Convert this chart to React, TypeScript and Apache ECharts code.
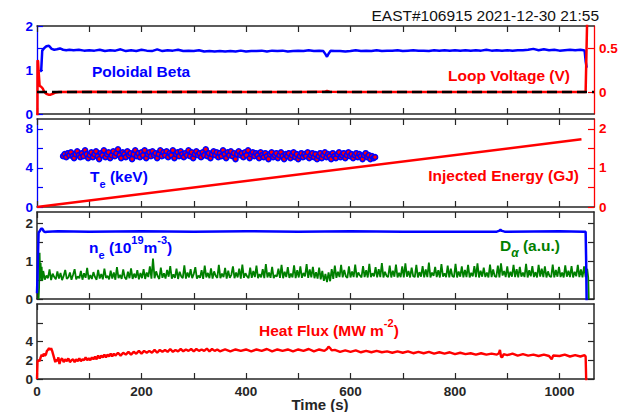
import React, { useEffect, useRef } from "react";
import * as echarts from "echarts";

// ---------- data ----------
const X_MAX = 1066;
const xTicks = [0, 100, 200, 300, 400, 500, 600, 700, 800, 900, 1000];
const xTickLabels = [0, 200, 400, 600, 800, 1000];

const p1LeftTicks = [0, 0.5, 1, 1.5, 2];
const p1LeftLabels = [0, 1, 2];
const p1RightTicks = [0, 0.5];
const p1RightLabels = [0, 0.5];
const p2LeftTicks = [0, 2, 4, 6, 8];
const p2LeftLabels = [0, 4, 8];
const p2RightTicks = [0, 0.5, 1, 1.5, 2];
const p2RightLabels = [0, 1, 2];
const p3Ticks = [0, 0.5, 1, 1.5, 2];
const p3Labels = [0, 1, 2];
const p4Ticks = [0, 2, 4, 6];
const p4Labels = [0, 2, 4];

const poloidalBeta = [
  [6, 0.97], [8, 0.98], [10, 1.44], [14, 1.5], [18, 1.54], [23, 1.55], [28, 1.48], [33, 1.46], [38, 1.47], [44, 1.49],
  [50, 1.46], [56, 1.45], [62, 1.46], [70, 1.45], [80, 1.46], [90, 1.44], [100, 1.45], [110, 1.44], [120, 1.46], [130, 1.43],
  [140, 1.45], [150, 1.44], [160, 1.47], [170, 1.43], [180, 1.45], [190, 1.43], [200, 1.46], [210, 1.44], [220, 1.43], [230, 1.47],
  [240, 1.43], [250, 1.45], [260, 1.44], [270, 1.46], [280, 1.43], [290, 1.44], [300, 1.43], [310, 1.45], [320, 1.42], [330, 1.43],
  [340, 1.42], [350, 1.43], [360, 1.42], [370, 1.43], [380, 1.42], [390, 1.44], [400, 1.42], [410, 1.43], [420, 1.43], [430, 1.44],
  [440, 1.42], [450, 1.44], [460, 1.43], [470, 1.44], [480, 1.42], [490, 1.43], [500, 1.44], [510, 1.43], [520, 1.45], [530, 1.43],
  [540, 1.44], [548, 1.43], [552, 1.36], [555, 1.3], [558, 1.37], [562, 1.44], [570, 1.43], [580, 1.43], [590, 1.42], [600, 1.43],
  [610, 1.45], [620, 1.43], [630, 1.44], [640, 1.43], [650, 1.45], [660, 1.43], [670, 1.44], [680, 1.44], [690, 1.45], [700, 1.43],
  [710, 1.44], [720, 1.45], [730, 1.44], [740, 1.44], [750, 1.43], [760, 1.45], [770, 1.44], [780, 1.45], [790, 1.44], [800, 1.45],
  [810, 1.44], [820, 1.45], [830, 1.44], [840, 1.45], [850, 1.44], [860, 1.46], [870, 1.44], [880, 1.45], [890, 1.44], [900, 1.45],
  [910, 1.44], [920, 1.45], [930, 1.45], [940, 1.46], [950, 1.48], [960, 1.45], [970, 1.47], [980, 1.45], [990, 1.46], [1000, 1.44],
  [1010, 1.45], [1020, 1.46], [1030, 1.45], [1040, 1.46], [1046, 1.45], [1048, 1.44], [1050, 1.2], [1052, 1.05],
];

const loopVoltage = [
  [0.8, -0.3], [1, 0.36], [2, 0.35], [3.5, 0.2], [5, 0.07], [8, 0.06], [11, 0.04], [14, 0.0], [18, -0.02], [22, -0.03],
  [26, -0.03], [30, -0.02], [36, -0.005], [42, 0.0], [100, 0.002], [200, 0.0], [300, 0.002], [400, 0.0], [500, 0.001], [550, 0.002],
  [555, 0.012], [560, 0.003], [600, 0.0], [700, 0.001], [800, 0.0], [900, 0.001], [1000, 0.0], [1048, 0.0], [1050, 0.0], [1053, 0.85],
];
const zeroLine = [[0, 0], [X_MAX, 0]];

const electronTemp = [
  [50, 5.2], [53, 5.4], [56, 5.1], [59, 5.5], [62, 5.3], [65, 5.6], [68, 5.2], [71, 5.0], [74, 5.4], [77, 5.7],
  [80, 5.3], [83, 5.1], [86, 5.5], [89, 5.2], [92, 5.8], [95, 5.4], [98, 5.0], [101, 5.3], [104, 5.6], [107, 5.1],
  [110, 5.4], [113, 5.7], [116, 5.2], [119, 4.9], [122, 5.5], [125, 5.3], [128, 5.8], [131, 5.1], [134, 5.4], [137, 5.6],
  [140, 5.0], [143, 5.3], [146, 5.7], [149, 5.2], [152, 5.5], [155, 5.9], [158, 5.3], [161, 5.0], [164, 5.6], [167, 5.4],
  [170, 5.1], [173, 5.7], [176, 5.3], [179, 5.5], [182, 4.9], [185, 5.4], [188, 5.8], [191, 5.2], [194, 5.5], [197, 5.1],
  [200, 5.6], [203, 5.3], [206, 5.8], [209, 5.0], [212, 5.4], [215, 5.6], [218, 5.2], [221, 5.7], [224, 5.3], [227, 5.5],
  [230, 5.0], [233, 5.4], [236, 5.8], [239, 5.2], [242, 5.6], [245, 5.3], [248, 5.7], [251, 5.1], [254, 5.5], [257, 5.3],
  [260, 5.8], [263, 5.0], [266, 5.4], [269, 5.6], [272, 5.2], [275, 5.7], [278, 5.4], [281, 5.1], [284, 5.5], [287, 5.3],
  [290, 5.8], [293, 5.2], [296, 5.6], [299, 5.0], [302, 5.4], [305, 5.7], [308, 5.3], [311, 5.5], [314, 5.1], [317, 5.6],
  [320, 5.3], [323, 5.9], [326, 5.2], [329, 5.5], [332, 5.0], [335, 5.4], [338, 5.7], [341, 5.3], [344, 5.6], [347, 5.1],
  [350, 5.5], [353, 5.2], [356, 5.8], [359, 5.4], [362, 5.0], [365, 5.6], [368, 5.3], [371, 5.7], [374, 5.2], [377, 5.5],
  [380, 4.9], [383, 5.4], [386, 5.7], [389, 5.3], [392, 5.5], [395, 5.1], [398, 5.6], [401, 5.3], [404, 5.8], [407, 5.0],
  [410, 5.4], [413, 5.6], [416, 5.2], [419, 5.5], [422, 5.3], [425, 5.0], [428, 5.6], [431, 5.3], [434, 5.1], [437, 5.5],
  [440, 5.2], [443, 4.9], [446, 5.4], [449, 5.6], [452, 5.1], [455, 5.3], [458, 5.5], [461, 5.0], [464, 5.3], [467, 5.6],
  [470, 5.2], [473, 4.9], [476, 5.4], [479, 5.2], [482, 5.5], [485, 5.0], [488, 5.3], [491, 5.6], [494, 5.1], [497, 5.4],
  [500, 4.9], [503, 5.2], [506, 5.5], [509, 5.1], [512, 5.4], [515, 5.2], [518, 5.6], [521, 5.0], [524, 5.3], [527, 5.5],
  [530, 5.1], [533, 5.4], [536, 4.9], [539, 5.2], [542, 5.5], [545, 5.0], [548, 5.3], [551, 5.6], [554, 5.1], [557, 5.4],
  [560, 5.2], [563, 4.9], [566, 5.5], [569, 5.2], [572, 5.0], [575, 5.4], [578, 5.6], [581, 5.1], [584, 5.3], [587, 5.5],
  [590, 5.0], [593, 5.3], [596, 5.6], [599, 5.2], [602, 5.4], [605, 5.0], [608, 5.3], [611, 5.5], [614, 5.1], [617, 5.4],
  [620, 5.2], [623, 4.9], [626, 5.3], [629, 5.5], [632, 5.1], [635, 5.3], [638, 4.9], [641, 5.2], [644, 5.0], [647, 5.1],
];

const injectedEnergy = [[0, 0], [1042, 1.73]];

const density = [
  [0, 0.15], [1, 0.6], [2, 1.2], [3, 1.75], [5, 1.79], [7, 1.84], [9, 1.87], [11, 1.84], [13, 1.79], [16, 1.77],
  [20, 1.78], [40, 1.79], [100, 1.78], [200, 1.79], [300, 1.78], [400, 1.79], [500, 1.78], [600, 1.79], [700, 1.78], [800, 1.78],
  [880, 1.78], [884, 1.8], [887, 1.83], [890, 1.8], [895, 1.78], [1000, 1.79], [1046, 1.78], [1050, 1.78], [1051, 1.0], [1052, -0.2],
];

const dAlpha = [
  [3, 0], [4, 0.3], [5, 1.22], [6, 0.55], [7, 0.95], [8, 0.5], [9, 0.85], [10, 0.48],
  [12, 0.74], [15, 0.51], [18, 0.62], [21, 0.55], [24, 0.78], [27, 0.5], [30, 0.67], [33, 0.58], [36, 0.52], [39, 0.73],
  [42, 0.54], [45, 0.69], [48, 0.5], [51, 0.61], [54, 0.77], [57, 0.53], [60, 0.57], [63, 0.7], [66, 0.51], [69, 0.64],
  [72, 0.79], [75, 0.52], [78, 0.6], [81, 0.55], [84, 0.74], [87, 0.51], [90, 0.68], [93, 0.56], [96, 0.82], [99, 0.52],
  [102, 0.63], [105, 0.53], [108, 0.71], [111, 0.58], [114, 0.51], [117, 0.77], [120, 0.54], [123, 0.66], [126, 0.52], [129, 0.8],
  [132, 0.56], [135, 0.61], [138, 0.52], [141, 0.75], [144, 0.54], [147, 0.7], [150, 0.51], [153, 0.84], [156, 0.55], [159, 0.64],
  [162, 0.53], [165, 0.78], [168, 0.57], [171, 0.52], [174, 0.72], [177, 0.55], [180, 0.81], [183, 0.53], [186, 0.67], [189, 0.56],
  [192, 0.76], [195, 0.52], [198, 0.69], [201, 0.55], [204, 0.79], [207, 0.53], [210, 0.7], [213, 0.58], [216, 0.86], [219, 0.54],
  [222, 1.07], [225, 0.55], [228, 0.73], [231, 0.6], [234, 0.53], [237, 0.83], [240, 0.56], [243, 0.68], [246, 0.54], [249, 0.77],
  [252, 0.59], [255, 0.87], [258, 0.54], [261, 0.65], [264, 0.56], [267, 0.8], [270, 0.53], [273, 0.72], [276, 0.6], [279, 0.55],
  [282, 0.89], [285, 0.54], [288, 0.7], [291, 0.57], [294, 0.79], [297, 0.55], [300, 0.66], [303, 0.84], [306, 0.54], [309, 0.62],
  [312, 0.56], [315, 0.76], [318, 0.53], [321, 0.88], [324, 0.57], [327, 0.69], [330, 0.55], [333, 0.81], [336, 0.54], [339, 0.73],
  [342, 0.61], [345, 0.56], [348, 0.9], [351, 0.55], [354, 0.67], [357, 0.58], [360, 0.82], [363, 0.54], [366, 0.75], [369, 0.56],
  [372, 0.64], [375, 0.86], [378, 0.55], [381, 0.7], [384, 0.57], [387, 0.8], [390, 0.54], [393, 0.91], [396, 0.56], [399, 0.68],
  [402, 0.6], [405, 0.55], [408, 0.83], [411, 0.56], [414, 0.74], [417, 0.58], [420, 0.88], [423, 0.55], [426, 0.66], [429, 0.57],
  [432, 0.79], [435, 0.55], [438, 0.92], [441, 0.57], [444, 0.7], [447, 0.56], [450, 0.85], [453, 0.55], [456, 0.63], [459, 0.59],
  [462, 0.8], [465, 0.56], [468, 0.9], [471, 0.55], [474, 0.72], [477, 0.58], [480, 0.84], [483, 0.56], [486, 0.67], [489, 0.57],
  [492, 0.89], [495, 0.55], [498, 0.76], [501, 0.57], [504, 0.86], [507, 0.56], [510, 0.69], [513, 0.6], [516, 0.92], [519, 0.56],
  [522, 0.78], [525, 0.57], [528, 0.85], [531, 0.55], [534, 0.71], [537, 0.54], [540, 0.83], [543, 0.52], [546, 0.74], [549, 0.48],
  [552, 0.66], [555, 0.45], [558, 0.7], [561, 0.47], [564, 0.79], [567, 0.53], [570, 0.88], [573, 0.56], [576, 0.72], [579, 0.58],
  [582, 0.9], [585, 0.57], [588, 0.77], [591, 0.6], [594, 0.56], [597, 0.86], [600, 0.57], [603, 0.73], [606, 0.58], [609, 0.91],
  [612, 0.57], [615, 0.7], [618, 0.62], [621, 0.57], [624, 0.87], [627, 0.58], [630, 0.76], [633, 0.57], [636, 0.93], [639, 0.58],
  [642, 0.68], [645, 0.6], [648, 0.84], [651, 0.57], [654, 0.79], [657, 0.58], [660, 0.95], [663, 0.57], [666, 0.72], [669, 0.61],
  [672, 0.58], [675, 0.88], [678, 0.57], [681, 0.75], [684, 0.59], [687, 0.91], [690, 0.57], [693, 0.69], [696, 0.58], [699, 0.86],
  [702, 0.57], [705, 0.94], [708, 0.59], [711, 0.74], [714, 0.57], [717, 0.83], [720, 0.6], [723, 0.58], [726, 0.9], [729, 0.57],
  [732, 0.71], [735, 0.59], [738, 0.87], [741, 0.57], [744, 0.78], [747, 0.58], [750, 0.96], [753, 0.57], [756, 0.7], [759, 0.61],
  [762, 0.85], [765, 0.58], [768, 0.76], [771, 0.57], [774, 0.92], [777, 0.59], [780, 0.68], [783, 0.58], [786, 0.88], [789, 0.57],
  [792, 0.8], [795, 0.6], [798, 0.58], [801, 0.93], [804, 0.57], [807, 0.73], [810, 0.59], [813, 0.86], [816, 0.57], [819, 0.77],
  [822, 0.58], [825, 0.9], [828, 0.57], [831, 0.69], [834, 0.6], [837, 0.87], [840, 0.58], [843, 0.94], [846, 0.57], [849, 0.75],
  [852, 0.59], [855, 0.83], [858, 0.58], [861, 0.7], [864, 0.57], [867, 0.91], [870, 0.58], [873, 0.78], [876, 0.6], [879, 0.58],
  [882, 0.88], [885, 0.57], [888, 0.94], [891, 0.62], [894, 0.74], [897, 0.58], [900, 0.86], [903, 0.57], [906, 0.72], [909, 0.59],
  [912, 0.9], [915, 0.58], [918, 0.79], [921, 0.57], [924, 0.85], [927, 0.59], [930, 0.7], [933, 0.58], [936, 0.93], [939, 0.57],
  [942, 0.76], [945, 0.6], [948, 0.87], [951, 0.58], [954, 0.71], [957, 0.57], [960, 0.9], [963, 0.59], [966, 0.8], [969, 0.58],
  [972, 0.86], [975, 0.57], [978, 0.73], [981, 0.6], [984, 0.58], [987, 0.91], [990, 0.57], [993, 0.77], [996, 0.59], [999, 0.85],
  [1002, 0.58], [1005, 0.7], [1008, 0.57], [1011, 0.89], [1014, 0.59], [1017, 0.75], [1020, 0.58], [1023, 0.87], [1026, 0.57], [1029, 0.72],
  [1032, 0.6], [1035, 0.9], [1038, 0.58], [1041, 0.78], [1044, 0.57], [1047, 0.86], [1050, 0.58], [1053, 0.8], [1055, 0.56], [1056, 0],
];

const heatFlux = [
  [0, 0], [1, 1.9], [3, 2.0], [5, 1.9], [7, 2.3], [9, 2.6], [11, 2.4], [13, 2.7], [15, 2.5], [17, 2.6],
  [19, 3.0], [21, 3.1], [23, 3.3], [25, 3.1], [27, 3.3], [29, 3.0], [31, 2.6], [33, 2.2], [35, 1.8], [37, 2.1],
  [39, 1.9], [41, 2.3], [43, 1.6], [45, 2.0], [48, 2.2], [51, 1.8], [54, 2.1], [57, 1.9], [60, 2.2], [63, 1.8],
  [66, 2.0], [69, 2.1], [72, 1.8], [75, 2.1], [78, 1.9], [81, 2.2], [84, 1.9], [87, 2.1], [90, 2.0], [93, 2.3],
  [96, 2.0], [99, 2.2], [102, 2.0], [105, 2.3], [108, 2.1], [111, 2.4], [114, 2.1], [117, 2.5], [120, 2.2], [123, 2.5],
  [126, 2.3], [129, 2.6], [132, 2.3], [135, 2.6], [138, 2.4], [141, 2.7], [144, 2.4], [147, 2.7], [150, 2.5], [155, 2.8],
  [160, 2.5], [165, 2.8], [170, 2.6], [175, 2.9], [180, 2.6], [185, 2.9], [190, 2.7], [195, 3.0], [200, 2.7], [205, 3.0],
  [210, 2.8], [215, 3.0], [220, 2.8], [225, 3.1], [230, 2.8], [235, 3.1], [240, 2.9], [245, 3.1], [250, 2.9], [255, 3.2],
  [260, 2.9], [265, 3.1], [270, 2.95], [275, 3.2], [280, 2.95], [285, 3.15], [290, 3.0], [295, 3.2], [300, 2.95], [305, 3.2],
  [310, 3.0], [315, 3.15], [320, 3.0], [325, 3.25], [330, 2.95], [335, 3.2], [340, 3.0], [345, 3.15], [350, 2.95], [360, 3.15],
  [370, 2.95], [380, 3.15], [390, 3.0], [400, 3.15], [410, 2.95], [420, 3.15], [430, 3.0], [440, 3.2], [450, 2.95], [460, 3.15],
  [470, 3.0], [480, 3.15], [490, 2.95], [500, 3.15], [510, 3.0], [520, 3.2], [530, 2.95], [540, 3.15], [550, 3.0], [555, 3.2],
  [558, 3.45], [561, 3.3], [564, 3.05], [570, 3.1], [580, 2.9], [590, 3.05], [600, 2.9], [610, 3.05], [620, 2.85], [630, 3.0],
  [640, 2.85], [650, 3.0], [660, 2.85], [670, 2.95], [680, 2.8], [690, 2.95], [700, 2.8], [710, 2.95], [720, 2.75], [730, 2.9],
  [740, 2.75], [750, 2.9], [760, 2.7], [770, 2.85], [780, 2.7], [790, 2.85], [800, 2.65], [810, 2.8], [820, 2.65], [830, 2.75],
  [840, 2.6], [850, 2.75], [860, 2.6], [870, 2.7], [880, 2.6], [884, 2.75], [886, 3.1], [888, 2.4], [890, 2.3], [893, 2.65],
  [900, 2.55], [910, 2.7], [920, 2.5], [930, 2.65], [940, 2.5], [950, 2.6], [960, 2.45], [970, 2.6], [980, 2.45], [985, 2.1],
  [988, 2.5], [1000, 2.45], [1010, 2.6], [1020, 2.4], [1030, 2.55], [1040, 2.4], [1048, 2.55], [1050, 2.4], [1051, 0], [1052, -1],
];

// ---------- styling ----------
const FONT = "'Liberation Sans', Arial, Helvetica, sans-serif";
const DARK = "#262626";
const BLUE = "#0000ff";
const RED = "#ff0000";
const GREEN = "#008000";
const TICK_FS = 13.5;

const grids = [
  { top: 26, height: 88 },
  { top: 119, height: 88 },
  { top: 212, height: 87 },
  { top: 304, height: 75 },
];

const plainNumber = (v: number) => String(v);

function xAxesFor(g: number, withLabels: boolean) {
  const common: any = {
    type: "value",
    gridIndex: g,
    min: 0,
    max: X_MAX,
    splitLine: { show: false },
    axisLine: { show: true, onZero: false, lineStyle: { color: DARK, width: 1.5 } },
    axisTick: { show: true, inside: true, length: 6, customValues: xTicks, lineStyle: { color: DARK, width: 1.2 } },
  };
  return [
    {
      ...common,
      position: "bottom",
      axisLabel: withLabels
        ? { show: true, customValues: xTickLabels, formatter: plainNumber, color: DARK, fontFamily: FONT, fontWeight: "bold", fontSize: TICK_FS, margin: 5 }
        : { show: false },
    },
    { ...common, position: "top", axisLabel: { show: false } },
  ];
}

function yAxisFor(
  g: number,
  position: "left" | "right",
  min: number,
  max: number,
  ticks: number[],
  labels: number[] | null,
  color: string
) {
  return {
    type: "value",
    gridIndex: g,
    position,
    min,
    max,
    splitLine: { show: false },
    axisLine: { show: true, onZero: false, lineStyle: { color, width: color === DARK ? 1.5 : 1.3 } },
    axisTick: { show: true, inside: true, length: 6, customValues: ticks, lineStyle: { color, width: 1.2 } },
    axisLabel: labels
      ? { show: true, customValues: labels, formatter: plainNumber, color, fontFamily: FONT, fontWeight: "bold", fontSize: TICK_FS, margin: position === "left" ? 4 : 5 }
      : { show: false },
  };
}

function richFor(color: string) {
  return {
    m: { fill: color, fontFamily: FONT, fontWeight: "bold", fontSize: 15.5, lineHeight: 26 },
    sb: { fill: color, fontFamily: FONT, fontWeight: "bold", fontSize: 11, lineHeight: 12, verticalAlign: "bottom" },
    sp: { fill: color, fontFamily: FONT, fontWeight: "bold", fontSize: 11, lineHeight: 16, verticalAlign: "top" },
    sa: { fill: color, fontFamily: FONT, fontWeight: "bold", fontStyle: "italic", fontSize: 12, lineHeight: 12, verticalAlign: "bottom" },
  };
}

function label(x: number, y: number, text: string, color: string, align: string = "left") {
  return {
    type: "text",
    x,
    y,
    silent: true,
    z: 100,
    style: { text, rich: richFor(color), align, verticalAlign: "middle" },
  };
}

const line = (xi: number, yi: number, data: number[][], color: string, width: number, z = 2) => ({
  type: "line",
  xAxisIndex: xi,
  yAxisIndex: yi,
  data,
  showSymbol: false,
  symbol: "none",
  clip: true,
  z,
  lineStyle: { color, width },
  itemStyle: { color },
});

const option: any = {
  animation: false,
  backgroundColor: "#ffffff",
  grid: grids.map((g) => ({ left: 37, right: 32, top: g.top, height: g.height, outerBoundsMode: "none", containLabel: false })),
  xAxis: [...xAxesFor(0, false), ...xAxesFor(1, false), ...xAxesFor(2, false), ...xAxesFor(3, true)],
  yAxis: [
    yAxisFor(0, "left", 0, 2, p1LeftTicks, p1LeftLabels, BLUE),
    yAxisFor(0, "right", -0.25, 0.75, p1RightTicks, p1RightLabels, RED),
    yAxisFor(1, "left", 0, 9, p2LeftTicks, p2LeftLabels, BLUE),
    yAxisFor(1, "right", 0, 2.25, p2RightTicks, p2RightLabels, RED),
    yAxisFor(2, "left", 0, 2.3, p3Ticks, p3Labels, DARK),
    yAxisFor(2, "right", 0, 2.3, p3Ticks, null, DARK),
    yAxisFor(3, "left", 0, 8, p4Ticks, p4Labels, DARK),
    yAxisFor(3, "right", 0, 8, p4Ticks, null, DARK),
  ],
  series: [
    line(0, 0, poloidalBeta, BLUE, 2.5, 3),
    line(0, 1, loopVoltage, RED, 2.5, 4),
    { ...line(0, 1, zeroLine, "#000000", 2.5, 5), lineStyle: { color: "#000000", width: 2.5, type: [10, 5] } },
    {
      type: "scatter",
      xAxisIndex: 2,
      yAxisIndex: 2,
      data: electronTemp,
      symbol: "circle",
      symbolSize: 5,
      itemStyle: { color: RED, borderColor: BLUE, borderWidth: 1.6, opacity: 1 },
      z: 3,
    },
    line(2, 3, injectedEnergy, RED, 2.5, 4),
    line(4, 4, dAlpha, GREEN, 1.8, 2),
    line(4, 4, density, BLUE, 2.5, 4),
    line(6, 6, heatFlux, RED, 2.4, 3),
  ],
  graphic: [
    {
      type: "text",
      x: 599,
      y: 15,
      silent: true,
      style: { text: "EAST#106915 2021-12-30 21:55", fill: "#111111", fontFamily: FONT, fontSize: 15.5, align: "right", verticalAlign: "middle" },
    },
    label(92, 71, "{m|Poloidal Beta}", BLUE),
    label(570, 75, "{m|Loop Voltage (V)}", RED, "right"),
    label(90, 176, "{m|T}{sb|e}{m| (keV)}", BLUE),
    label(579, 175.5, "{m|Injected Energy (GJ)}", RED, "right"),
    label(89, 247, "{m|n}{sb|e}{m| (10}{sp|19}{m|m}{sp|-3}{m|)}", BLUE),
    label(500, 245.5, "{m|D}{sa|α}{m| (a.u.)}", GREEN),
    label(259, 330, "{m|Heat Flux (MW m}{sp|-2}{m|)}", RED),
    {
      type: "text",
      x: 320,
      y: 404,
      silent: true,
      style: { text: "Time (s)", fill: DARK, fontFamily: FONT, fontWeight: "bold", fontSize: 15, align: "center", verticalAlign: "middle" },
    },
  ],
};

export default function App() {
  const ref = useRef<HTMLDivElement>(null);
  useEffect(() => {
    const chart = echarts.init(ref.current as HTMLDivElement, null, { renderer: "svg" });
    chart.setOption(option);
    return () => chart.dispose();
  }, []);
  return (
    <div
      ref={ref}
      style={{ position: "fixed", left: 0, top: 0, width: 626, height: 412, background: "#ffffff" }}
    />
  );
}
